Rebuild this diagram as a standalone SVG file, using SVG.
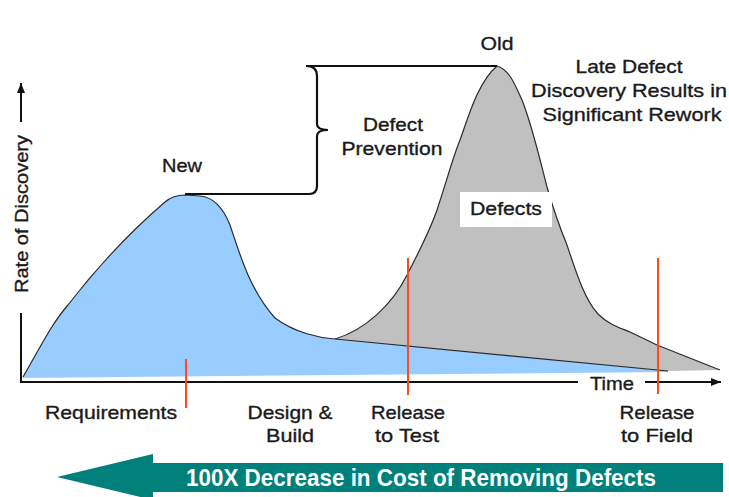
<svg xmlns="http://www.w3.org/2000/svg" width="729" height="497" viewBox="0 0 729 497">
<style>
.t{font-family:"Liberation Sans",Arial,sans-serif;font-size:19px;fill:#1a1a1a;stroke:#1a1a1a;stroke-width:0.35;text-anchor:middle}
.out{fill:none;stroke:#2a2a2a;stroke-width:1.2}
.red{stroke:#ff4a1c;stroke-width:2;fill:none}
.ax{stroke:#111;stroke-width:2;fill:none}
</style>
<defs>
<marker id="ah" viewBox="0 0 10 10" refX="10" refY="5" markerWidth="10" markerHeight="10" markerUnits="userSpaceOnUse" orient="auto">
<path d="M0,1 L10,5 L0,9 Z" fill="#111"/>
</marker>
</defs>
<rect width="729" height="497" fill="#fff"/>

<g id="old-curve">
<path d="M335,339 C365,330 392,305 407,275 C420,250 430,230 437,210 C447,180 452,160 460,140 C468,118 478,82 497,66 C510,70 515,85 522,100 C532,125 540,160 547,187 C555,215 560,228 567,245 C577,275 585,300 598,314 C608,324 618,327 630,332 L657,345 L720,370 L668,371 Z" fill="#c0c0c0"/>
<path class="out" d="M335,339 C365,330 392,305 407,275 C420,250 430,230 437,210 C447,180 452,160 460,140 C468,118 478,82 497,66 C510,70 515,85 522,100 C532,125 540,160 547,187 C555,215 560,228 567,245 C577,275 585,300 598,314 C608,324 618,327 630,332 L657,345 L720,370"/>
</g>

<g id="new-curve">
<path d="M23,377 C43,342 53,322 68,305 C95,270 130,232 165,202 C172,196 178,195 185,195 L200,196 C212,197 222,205 230,225 C240,255 250,290 275,318 C295,333 320,338 335,339 L668,371 L668,372 L23,378 Z" fill="#99ccff"/>
<path class="out" d="M23,377 C43,342 53,322 68,305 C95,270 130,232 165,202 C172,196 178,195 185,195 L200,196 C212,197 222,205 230,225 C240,255 250,290 275,318 C295,333 320,338 335,339 L668,371"/>
</g>

<g id="axes">
<path class="ax" d="M21,313 L21,382 L578,382"/>
<path class="ax" d="M645,382 L721,382" marker-end="url(#ah)"/>
<path class="ax" d="M21,122 L21,83" marker-end="url(#ah)"/>
<text class="t" transform="translate(28,214) rotate(-90)" textLength="158" lengthAdjust="spacingAndGlyphs">Rate of Discovery</text>
<text class="t" x="612" y="390" textLength="44" lengthAdjust="spacingAndGlyphs">Time</text>
</g>

<g id="bracket">
<path d="M306,66 L497,66" stroke="#111" stroke-width="2" fill="none"/>
<path d="M306,66 Q317,66 317,76 L317,124 Q317,130 328,130 Q317,130 317,136 L317,186 Q317,194 309,194 L185,194" stroke="#111" stroke-width="2.2" fill="none"/>
</g>

<g id="milestones">
<path class="red" d="M186,359 L186,408"/>
<path class="red" d="M408,258 L408,395"/>
<path class="red" d="M658,258 L658,394"/>
</g>

<g id="labels">
<text class="t" x="182" y="172" textLength="40" lengthAdjust="spacingAndGlyphs">New</text>
<text class="t" x="497" y="50" textLength="33" lengthAdjust="spacingAndGlyphs">Old</text>
<text class="t" x="393" y="131" textLength="60" lengthAdjust="spacingAndGlyphs">Defect</text>
<text class="t" x="392" y="155" textLength="101" lengthAdjust="spacingAndGlyphs">Prevention</text>
<text class="t" x="629" y="73" textLength="107" lengthAdjust="spacingAndGlyphs">Late Defect</text>
<text class="t" x="629" y="97" textLength="196" lengthAdjust="spacingAndGlyphs">Discovery Results in</text>
<text class="t" x="632" y="121" textLength="179" lengthAdjust="spacingAndGlyphs">Significant Rework</text>
</g>

<g id="defects-label">
<rect x="460" y="192" width="92" height="35" fill="#fff"/>
<text class="t" x="506" y="215" textLength="72" lengthAdjust="spacingAndGlyphs">Defects</text>
</g>

<g id="phases">
<text class="t" x="111" y="419" textLength="132" lengthAdjust="spacingAndGlyphs">Requirements</text>
<text class="t" x="290" y="419" textLength="85" lengthAdjust="spacingAndGlyphs">Design &amp;</text>
<text class="t" x="290" y="442" textLength="48" lengthAdjust="spacingAndGlyphs">Build</text>
<text class="t" x="408" y="419" textLength="74" lengthAdjust="spacingAndGlyphs">Release</text>
<text class="t" x="407" y="442" textLength="64" lengthAdjust="spacingAndGlyphs">to Test</text>
<text class="t" x="657" y="419" textLength="75" lengthAdjust="spacingAndGlyphs">Release</text>
<text class="t" x="657" y="442" textLength="72" lengthAdjust="spacingAndGlyphs">to Field</text>
</g>

<g id="cost-arrow">
<polygon points="57,477 153,454 153,463 723,463 723,492 153,492 153,500" fill="#00807a"/>
<text x="421" y="486" font-family="'Liberation Sans',Arial,sans-serif" font-size="23" font-weight="bold" fill="#fff" text-anchor="middle" textLength="470" lengthAdjust="spacingAndGlyphs">100X Decrease in Cost of Removing Defects</text>
</g>
</svg>
